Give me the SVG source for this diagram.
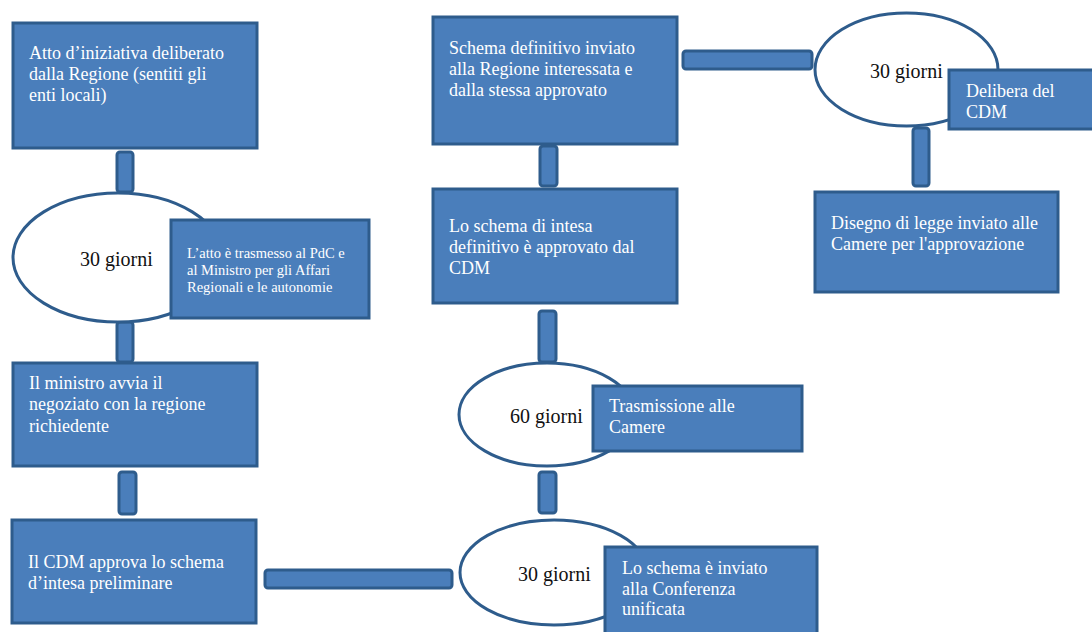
<svg xmlns="http://www.w3.org/2000/svg" width="1092" height="632" viewBox="0 0 1092 632">
<style>
.box{fill:#4A7EBB;stroke:#2E5C8C;stroke-width:3}
.conn{fill:#4A7EBB;stroke:#2E5C8C;stroke-width:3}
.ell{fill:#FFFFFF;stroke:#2E5C8C;stroke-width:3}
.t{font-family:"Liberation Serif","Times New Roman",serif;font-size:18px;fill:#FFFFFF}
.ts{font-family:"Liberation Serif","Times New Roman",serif;font-size:14.5px;fill:#FFFFFF}
.te{font-family:"Liberation Serif","Times New Roman",serif;font-size:20px;fill:#111111}
</style>
<rect width="1092" height="632" fill="#FFFFFF"/>
<g id="connectors">
<rect class="conn" x="117" y="152" width="16" height="40" rx="3"/>
<rect class="conn" x="117" y="322" width="16" height="40" rx="3"/>
<rect class="conn" x="119" y="472" width="17" height="42" rx="3"/>
<rect class="conn" x="265" y="570" width="187" height="18" rx="3"/>
<rect class="conn" x="539" y="472" width="17" height="41" rx="3"/>
<rect class="conn" x="539" y="311" width="17" height="51" rx="3"/>
<rect class="conn" x="540" y="146" width="17" height="40" rx="3"/>
<rect class="conn" x="683" y="51" width="129" height="18" rx="3"/>
<rect class="conn" x="913" y="128" width="16" height="58" rx="3"/>
</g>
<g id="n1">
<rect class="box" x="13" y="23" width="244" height="125"/>
<text class="t" x="29" y="59">Atto d’iniziativa deliberato</text>
<text class="t" x="29" y="80">dalla Regione (sentiti gli</text>
<text class="t" x="29" y="101">enti locali)</text>
</g>
<g id="e1">
<ellipse class="ell" cx="118" cy="257.5" rx="105" ry="64.5"/>
<text class="te" x="80" y="266">30 giorni</text>
</g>
<g id="n2">
<rect class="box" x="171" y="220" width="198" height="98"/>
<text class="ts" x="187" y="258">L’atto è trasmesso al PdC e</text>
<text class="ts" x="187" y="275">al Ministro per gli Affari</text>
<text class="ts" x="187" y="292">Regionali e le autonomie</text>
</g>
<g id="n3">
<rect class="box" x="13" y="363" width="244" height="103"/>
<text class="t" x="29" y="389">Il ministro avvia il</text>
<text class="t" x="29" y="410">negoziato con la regione</text>
<text class="t" x="29" y="432">richiedente</text>
</g>
<g id="n4">
<rect class="box" x="12" y="520" width="244" height="103"/>
<text class="t" x="28" y="568">Il CDM approva lo schema</text>
<text class="t" x="28" y="589">d’intesa preliminare</text>
</g>
<g id="e2">
<ellipse class="ell" cx="554" cy="572.5" rx="94" ry="52.5"/>
<text class="te" x="518" y="581">30 giorni</text>
</g>
<g id="n5">
<rect class="box" x="605" y="547" width="212" height="100"/>
<text class="t" x="622" y="574">Lo schema è inviato</text>
<text class="t" x="622" y="595">alla Conferenza</text>
<text class="t" x="622" y="615">unificata</text>
</g>
<g id="e3">
<ellipse class="ell" cx="547" cy="414.5" rx="88" ry="51.5"/>
<text class="te" x="510" y="423">60 giorni</text>
</g>
<g id="n6">
<rect class="box" x="593" y="386" width="209" height="65"/>
<text class="t" x="609" y="412">Trasmissione alle</text>
<text class="t" x="609" y="433">Camere</text>
</g>
<g id="n7">
<rect class="box" x="433" y="189" width="244" height="114"/>
<text class="t" x="449" y="232">Lo schema di intesa</text>
<text class="t" x="449" y="253">definitivo è approvato dal</text>
<text class="t" x="449" y="274">CDM</text>
</g>
<g id="n8">
<rect class="box" x="433" y="17" width="244" height="127"/>
<text class="t" x="449" y="54">Schema definitivo inviato</text>
<text class="t" x="449" y="75">alla Regione interessata e</text>
<text class="t" x="449" y="96">dalla stessa approvato</text>
</g>
<g id="e4">
<ellipse class="ell" cx="906.5" cy="69.5" rx="91.5" ry="56.5"/>
<text class="te" x="870" y="78">30 giorni</text>
</g>
<g id="n9">
<rect class="box" x="949" y="70" width="150" height="59"/>
<text class="t" x="966" y="97">Delibera del</text>
<text class="t" x="966" y="118">CDM</text>
</g>
<g id="n10">
<rect class="box" x="815" y="192" width="243" height="100"/>
<text class="t" x="831" y="229">Disegno di legge inviato alle</text>
<text class="t" x="831" y="250">Camere per l'approvazione</text>
</g>
</svg>
